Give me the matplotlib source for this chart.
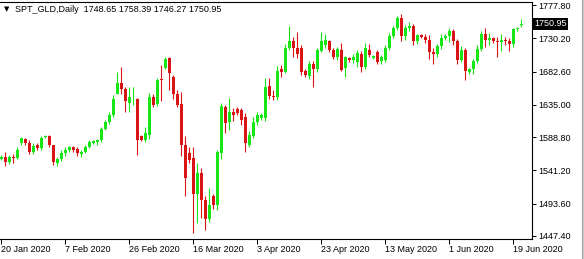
import matplotlib
matplotlib.use("Agg")
import matplotlib.pyplot as plt
from matplotlib.lines import Line2D
from matplotlib.transforms import blended_transform_factory

# daily OHLC bars of SPT_GLD, 20 Jan 2020 .. 22 Jun 2020 (broker has Sunday bars)
opens = [1558, 1561, 1553, 1561, 1559, 1580, 1586, 1581, 1568, 1577,
         1573, 1589, 1590, 1577, 1552, 1558, 1566, 1570, 1574, 1572,
         1565, 1567, 1575, 1581, 1582, 1584, 1601, 1610, 1620, 1651,
         1666, 1657, 1638, 1643, 1644, 1590, 1585, 1592, 1646, 1636,
         1672, 1688, 1702, 1675, 1650, 1636, 1577, 1566, 1559, 1507,
         1538, 1499, 1471, 1505, 1492, 1566, 1632, 1610, 1625, 1629,
         1627, 1617, 1578, 1591, 1611, 1616, 1616, 1662, 1648, 1646,
         1686, 1682, 1717, 1727, 1716, 1716, 1684, 1676, 1693, 1686,
         1712, 1721, 1726, 1714, 1703, 1713, 1688, 1702, 1699, 1696,
         1708, 1689, 1714, 1702, 1710, 1697, 1699, 1717, 1733, 1745,
         1759, 1733, 1745, 1748, 1726, 1735, 1732, 1728, 1710, 1708,
         1719, 1730, 1734, 1740, 1727, 1699, 1714, 1682, 1686, 1697,
         1715, 1737, 1728, 1730, 1726, 1725, 1728, 1727, 1722, 1743,
         1748.65]
highs = [1563, 1567, 1563, 1565, 1574, 1589, 1588, 1584, 1580, 1580,
         1590, 1592, 1592, 1578, 1560, 1570, 1574, 1576, 1576, 1574,
         1571, 1578, 1585, 1585, 1586, 1604, 1613, 1625, 1649, 1682,
         1689, 1660, 1660, 1660, 1645, 1592, 1603, 1652, 1651, 1674,
         1692, 1703, 1704, 1677, 1656, 1653, 1590, 1575, 1575, 1552,
         1545, 1504, 1516, 1508, 1570, 1637, 1635, 1645, 1631, 1632,
         1630, 1624, 1598, 1617, 1625, 1624, 1674, 1673, 1656, 1690,
         1692, 1722, 1748, 1732, 1739, 1720, 1686, 1698, 1698, 1716,
         1739, 1737, 1728, 1717, 1718, 1723, 1705, 1703, 1708, 1713,
         1712, 1723, 1722, 1707, 1713, 1706, 1720, 1738, 1748, 1762,
         1765, 1749, 1753, 1750, 1737, 1737, 1736, 1735, 1716, 1722,
         1737, 1736, 1745, 1743, 1729, 1719, 1716, 1688, 1700, 1720,
         1740, 1745, 1738, 1732, 1732, 1736, 1732, 1730, 1745, 1747,
         1758.39]
lows = [1556, 1547, 1550, 1552, 1557, 1578, 1578, 1565, 1564, 1570,
        1570, 1587, 1574, 1549, 1548, 1555, 1562, 1568, 1568, 1562,
        1561, 1566, 1573, 1579, 1578, 1582, 1599, 1608, 1617, 1650,
        1650, 1625, 1625, 1635, 1563, 1583, 1582, 1586, 1632, 1633,
        1641, 1686, 1656, 1644, 1632, 1562, 1505, 1552, 1451, 1466,
        1473, 1456, 1468, 1486, 1484, 1558, 1595, 1599, 1612, 1620,
        1606, 1567, 1574, 1587, 1606, 1613, 1612, 1643, 1642, 1642,
        1675, 1680, 1713, 1703, 1702, 1678, 1675, 1672, 1660, 1682,
        1710, 1716, 1711, 1700, 1699, 1684, 1675, 1696, 1695, 1689,
        1682, 1686, 1703, 1700, 1693, 1694, 1696, 1713, 1730, 1742,
        1726, 1728, 1741, 1720, 1722, 1730, 1724, 1700, 1693, 1704,
        1715, 1728, 1725, 1720, 1693, 1696, 1670, 1679, 1679, 1695,
        1712, 1718, 1720, 1724, 1704, 1712, 1720, 1712, 1718, 1740,
        1746.27]
closes = [1561, 1553, 1560, 1559, 1571, 1587, 1581, 1568, 1576, 1573,
          1587, 1590, 1577, 1553, 1558, 1566, 1570, 1574, 1571, 1566,
          1568, 1575, 1582, 1583, 1584, 1601, 1611, 1620, 1643, 1666,
          1657, 1640, 1646, 1643, 1585, 1585, 1595, 1646, 1635, 1671,
          1670, 1700, 1680, 1650, 1635, 1577, 1530, 1556, 1508, 1537,
          1499, 1471, 1492, 1492, 1567, 1634, 1609, 1625, 1620, 1624,
          1613, 1580, 1592, 1611, 1620, 1621, 1661, 1648, 1646, 1684,
          1682, 1717, 1726, 1716, 1708, 1682, 1677, 1693, 1686, 1713,
          1726, 1728, 1713, 1703, 1715, 1685, 1703, 1699, 1704, 1709,
          1689, 1716, 1706, 1705, 1696, 1703, 1717, 1734, 1745, 1759,
          1734, 1745, 1748, 1726, 1735, 1732, 1728, 1710, 1708, 1719,
          1730, 1734, 1740, 1727, 1699, 1714, 1684, 1686, 1697, 1715,
          1737, 1728, 1730, 1726, 1725, 1728, 1727, 1722, 1743, 1745,
          1750.95]

date_labels = ["20 Jan 2020", "7 Feb 2020", "26 Feb 2020", "16 Mar 2020", "3 Apr 2020",
               "23 Apr 2020", "13 May 2020", "1 Jun 2020", "19 Jun 2020"]
price_ticks = [1777.80, 1730.20, 1682.60, 1635.00, 1588.80, 1541.20, 1493.60, 1447.40]
symbol = "SPT_GLD,Daily"

plt.rcParams['font.family'] = ['Liberation Sans', 'DejaVu Sans']
W, H = 584, 259
fig = plt.figure(figsize=(W / 100, H / 100), dpi=100)
ax = fig.add_axes([0, 1 - 239 / H, 532 / W, 237 / H])

bull = '#16e616'
bear = '#d81414'
for i in range(len(opens)):
    o, h, l, c = opens[i], highs[i], lows[i], closes[i]
    col = bull if c >= o else bear
    ax.vlines(i, l, h, color=col, linewidth=0.8)
    ax.bar(i, max(abs(c - o), 0.8), bottom=min(o, c), width=0.75, color=col, linewidth=0)

ax.set_xlim(-0.25, 132.75)
ax.set_ylim(1443.1, 1782.1)

for s in ['left']:
    ax.spines[s].set_visible(False)
for s in ['top', 'right', 'bottom']:
    ax.spines[s].set_linewidth(0.8)

ax.yaxis.tick_right()
ax.set_yticks(price_ticks)
ax.set_yticklabels(['%.2f' % v for v in price_ticks])
ax.tick_params(axis='y', direction='out', length=3, width=0.7, pad=1.5, labelsize=6.5)

ax.set_xticks([16 * k for k in range(len(date_labels))])
ax.set_xticklabels(date_labels)
ax.tick_params(axis='x', direction='out', length=3.5, width=0.7, pad=0.5, labelsize=6.5)
for lbl in ax.get_xticklabels():
    lbl.set_horizontalalignment('left')

# current price tag
tr = blended_transform_factory(ax.transAxes, ax.transData)
ax.text(1.004, closes[-1], '%.2f' % closes[-1], transform=tr, ha='left', va='center',
        fontsize=6.5, color='white',
        bbox=dict(boxstyle='square,pad=0.15', facecolor='black', edgecolor='none'))

# header
fig.text(4 / W, 1 - 9 / H, '\u25bc', fontsize=5, family='DejaVu Sans', va='center', ha='left')
fig.text(15 / W, 1 - 9 / H, '%s  %.2f %.2f %.2f %.2f' % (symbol, opens[-1], highs[-1], lows[-1], closes[-1]),
         fontsize=6.5, va='center', ha='left')

fig.add_artist(Line2D([581.5 / W, 581.5 / W], [0, 1], color='#303030', linewidth=0.8))
fig.add_artist(Line2D([583 / W, 583 / W], [0, 1], color='#c0c0c0', linewidth=1.2))

fig.savefig('out.png', dpi=100)
